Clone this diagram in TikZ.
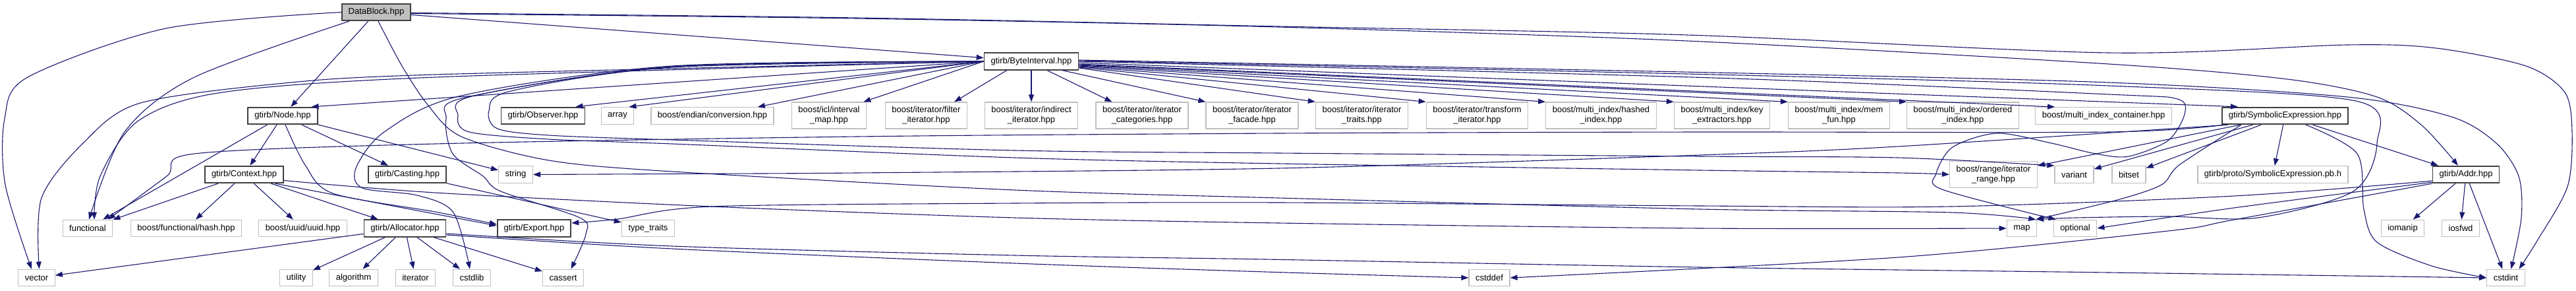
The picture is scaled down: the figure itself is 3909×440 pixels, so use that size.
\documentclass[tikz,border=0pt]{standalone}
\usepackage{fontspec}
\setmainfont{Liberation Sans}
\usetikzlibrary{arrows.meta}
\definecolor{edgeblue}{RGB}{25,25,112}
\definecolor{boxgray}{RGB}{191,191,191}
\definecolor{boxdark}{RGB}{64,64,64}

\begin{document}
\begin{tikzpicture}[
  x=1pt, y=-1pt,
  font=\fontsize{13}{15}\selectfont,
  sys/.style={draw=boxgray, line width=1.3pt, fill=white, align=center, inner xsep=10pt, inner ysep=2pt, minimum height=25.5pt},
  tall/.style={minimum height=40pt},
  own/.style={sys, draw=boxdark, line width=1.8pt},
  root/.style={own, fill=boxgray},
  dep/.style={draw=edgeblue, line width=1.1pt, -{Triangle[length=11pt,width=8pt]}}
]
\useasboundingbox (0,0) rectangle (3909,440);

% rows of the include graph
\node[root] (dblk) at (571,18.5) {DataBlock.hpp};
\node[own] (bi) at (1565,93) {gtirb/ByteInterval.hpp};

\node[own] (gnode) at (429,175.5) {gtirb/Node.hpp};
\node[own] (observer) at (824,175.5) {gtirb/Observer.hpp};
\node[sys] (array) at (937,175.5) {array};
\node[sys] (endian) at (1081,175.5) {boost/endian/conversion.hpp};
\node[sys, tall] (icl) at (1258,175) {boost/icl/interval\\\_map.hpp};
\node[sys, tall] (filter) at (1405.5,175) {boost/iterator/filter\\\_iterator.hpp};
\node[sys, tall] (indirect) at (1565,175) {boost/iterator/indirect\\\_iterator.hpp};
\node[sys, tall] (categ) at (1733,175) {boost/iterator/iterator\\\_categories.hpp};
\node[sys, tall] (facade) at (1900,175) {boost/iterator/iterator\\\_facade.hpp};
\node[sys, tall] (itraits) at (2066.5,175) {boost/iterator/iterator\\\_traits.hpp};
\node[sys, tall] (transform) at (2241.5,175) {boost/iterator/transform\\\_iterator.hpp};
\node[sys, tall] (hashed) at (2429.5,175) {boost/multi\_index/hashed\\\_index.hpp};
\node[sys, tall] (keyext) at (2613,175) {boost/multi\_index/key\\\_extractors.hpp};
\node[sys, tall] (memfun) at (2790.5,175) {boost/multi\_index/mem\\\_fun.hpp};
\node[sys, tall] (ordered) at (2978.5,175) {boost/multi\_index/ordered\\\_index.hpp};
\node[sys] (mic) at (3192,175.5) {boost/multi\_index\_container.hpp};
\node[own] (symexpr) at (3467.5,175.5) {gtirb/SymbolicExpression.hpp};

\node[own] (ctx) at (370.5,264.5) {gtirb/Context.hpp};
\node[own] (cast) at (618,264.5) {gtirb/Casting.hpp};
\node[sys] (string) at (782.5,264.5) {string};
\node[sys, tall] (range) at (3025,264.5) {boost/range/iterator\\\_range.hpp};
\node[sys] (variant) at (3147.5,264.5) {variant};
\node[sys] (bitset) at (3230.5,264.5) {bitset};
\node[sys] (pbh) at (3449,264.5) {gtirb/proto/SymbolicExpression.pb.h};
\node[own] (addr) at (3742,264.5) {gtirb/Addr.hpp};

\node[sys] (func) at (133,346) {functional};
\node[sys] (fhash) at (282.5,346) {boost/functional/hash.hpp};
\node[sys] (uuid) at (459.5,346) {boost/uuid/uuid.hpp};
\node[own] (alloc) at (614.5,346) {gtirb/Allocator.hpp};
\node[own] (export) at (810.5,346) {gtirb/Export.hpp};
\node[sys] (ttraits) at (983.5,346) {type\_traits};
\node[sys] (map) at (3068,346) {map};
\node[sys] (optional) at (3149,346) {optional};
\node[sys] (iomanip) at (3646,346) {iomanip};
\node[sys] (iosfwd) at (3734,346) {iosfwd};

\node[sys] (vector) at (55.5,421) {vector};
\node[sys] (utility) at (449.5,421) {utility};
\node[sys] (algorithm) at (536.5,421) {algorithm};
\node[sys] (iterator) at (630.5,421) {iterator};
\node[sys] (cstdlib) at (716,421) {cstdlib};
\node[sys] (cassert) at (854.5,421) {cassert};
\node[sys] (cstddef) at (2260,421) {cstddef};
\node[sys] (cstdint) at (3802.5,421) {cstdint};

% DataBlock.hpp
\draw[dep] plot[smooth] coordinates {(dblk.west) (252,43) (42,117) (7,180) (8,280) (vector.120)};
\draw[dep] plot[smooth] coordinates {([xshift=-41pt]dblk.south) (295,117) (189,200) ([xshift=2pt]func.north)};
\draw[dep] (dblk) -- (gnode);
\draw[dep] (dblk) -- (bi);
\draw[dep] plot[smooth] coordinates {([yshift=-2pt]dblk.east) (1300,28) (1940,41) (2560,62) (3200,97) (3471,120) (3607,147) (3675,190) ([xshift=-12pt]addr.north)};
\draw[dep] plot[smooth] coordinates {([yshift=-1pt]dblk.east) (1300,27) (1940,40) (2560,53) (3200,80) (3562,68) (3697,73) (3833,100) (3892,140) (3903,200) (3896,283) (3850,365) ([xshift=20pt]cstdint.north)};
\draw[dep] plot[smooth] coordinates {([xshift=3pt]dblk.south) (610,100) (650,160) (700,207) (833,243) (1020,260) (1540,288) (1940,300) (2580,317) (2960,322) ([xshift=-2pt]map.north east)};

% ByteInterval.hpp
\draw[dep] (bi.west) -- ([xshift=-15pt]observer.north east);
\draw[dep] (bi.west) -- ([xshift=-8pt]array.north east);
\draw[dep] (bi.west) -- ([xshift=-25pt]endian.north east);
\draw[dep] (bi.west) -- ([xshift=-5pt]icl.north east);
\draw[dep] ([xshift=35pt]bi.south west) -- ([xshift=-20pt]filter.north east);
\draw[dep] (bi) -- (indirect);
\draw[dep] ([xshift=24pt]bi.south) -- ([xshift=25pt]categ.north west);
\draw[dep] ([xshift=47pt]bi.south) -- (facade.north west);
\draw[dep] ([yshift=-10pt]bi.east) -- (itraits.north west);
\draw[dep] ([yshift=-9pt]bi.east) -- (transform.north west);
\draw[dep] ([yshift=-8pt]bi.east) -- (hashed.north west);
\draw[dep] ([yshift=-7pt]bi.east) -- (keyext.north west);
\draw[dep] ([yshift=-6pt]bi.east) -- (memfun.north west);
\draw[dep] ([yshift=-5pt]bi.east) -- (ordered.north west);
\draw[dep] ([yshift=-4pt]bi.east) -- ([xshift=30pt]mic.north west);
\draw[dep] ([yshift=-2pt]bi.east) -- ([xshift=25pt]symexpr.north west);
\draw[dep] (bi.west) -- ([xshift=-10pt]gnode.north east);
\draw[dep] plot[smooth] coordinates {(bi.west) (660,117) (337,140) (210,183) (152,267) ([xshift=10pt]func.north)};
\draw[dep] plot[smooth] coordinates {(bi.west) (660,113) (421,127) (210,157) (126,217) (63,300) ([xshift=4pt]vector.north)};
\draw[dep] plot[smooth] coordinates {(bi.west) (1020,100) (700,145) (583,200) (540,255) (550,285) (633,296) (688,322) ([xshift=-3pt]cstdlib.north)};
\draw[dep] plot[smooth] coordinates {(bi.west) (1020,101) (705,148) (677,180) (687,233) (733,267) (760,290) (880,330) (889,355) ([xshift=12pt]cassert.north)};
\draw[dep] plot[smooth] coordinates {(bi.west) (1020,101) (720,145) (695,175) (712,200) (833,211) (1020,218) (1540,239) (1940,248) (2580,258) (2880,262) (range.west)};
\draw[dep] plot[smooth] coordinates {(bi.west) (1020,102) (775,138) (742,168) (755,195) (833,205) (1020,212) (1540,228) (1940,232) (2580,237) (2880,239) (variant.north west)};
\draw[dep] plot[smooth] coordinates {([yshift=2pt]bi.east) (2600,110) (3200,125) (3562,147) (3720,177) (3788,217) (3822,267) (3826,330) ([xshift=8pt]cstdint.north)};
\draw[dep] plot[smooth] coordinates {([yshift=1pt]bi.east) (2600,113) (3200,130) (3575,153) (3607,217) (3571,290) (3426,330) (3290,328) (3150,330) ([xshift=-1pt]map.north east)};
\draw[dep] plot[smooth] coordinates {(bi.east) (2600,118) (3200,143) (3304,150) (3315,173) (3290,213) (3230,237) (3180,233) (3113,217) (3030,202) (2963,223) (2938,263) (2947,287) ([xshift=4pt]optional.north west)};

% gtirb/Node.hpp
\draw[dep] (gnode) -- (func);
\draw[dep] (gnode) -- (ctx);
\draw[dep] (gnode) -- (cast);
\draw[dep] (gnode) -- (string);
\draw[dep] plot[smooth] coordinates {([xshift=4pt]gnode.south) (463,250) (505,293) (660,321) ([yshift=6pt]export.west)};

% gtirb/Context.hpp
\draw[dep] (ctx) -- (func);
\draw[dep] (ctx) -- (fhash);
\draw[dep] (ctx) -- (uuid);
\draw[dep] (ctx) -- (alloc);
\draw[dep] ([xshift=47pt]ctx.south) -- ([yshift=4pt]export.west);
\draw[dep] plot[smooth] coordinates {([yshift=-9pt]ctx.east) (660,292) (1080,313) (1540,330) (1940,338) (2580,346) (map.west)};

% gtirb/Casting.hpp
\draw[dep] (cast) -- (ttraits);

% gtirb/Allocator.hpp
\draw[dep] (alloc) -- (vector);
\draw[dep] (alloc) -- (utility);
\draw[dep] (alloc) -- (algorithm);
\draw[dep] (alloc) -- (iterator);
\draw[dep] (alloc) -- (cstdlib);
\draw[dep] (alloc) -- (cassert);
\draw[dep] plot[smooth] coordinates {([yshift=-10pt]alloc.east) (1020,377) (1540,399) (1920,412) (cstddef.west)};
\draw[dep] plot[smooth] coordinates {([yshift=-8pt]alloc.east) (1020,373) (1540,387) (1920,393) (2580,405) (3200,413) (cstdint.west)};

% gtirb/SymbolicExpression.hpp
\draw[dep] plot[smooth] coordinates {([xshift=5pt]symexpr.south west) (3200,200) (2580,200) (1940,202) (1300,207) (660,218) (295,233) (253,267) ([xshift=31pt]func.north)};
\draw[dep] plot[smooth] coordinates {([xshift=10pt]symexpr.south west) (2880,222) (2580,235) (1940,255) (1300,262) (1020,263.5) (string.east)};
\draw[dep] (symexpr) -- (range);
\draw[dep] (symexpr) -- (variant);
\draw[dep] (symexpr) -- (bitset);
\draw[dep] plot[smooth] coordinates {([xshift=30pt]symexpr.south west) (3307,250) (3280,280) (3213,303) ([xshift=-2pt]map.north east)};
\draw[dep] (symexpr) -- (pbh);
\draw[dep] (symexpr) -- (addr);
\draw[dep] plot[smooth] coordinates {([xshift=-65pt]symexpr.south east) (3577,233) (3587,317) (3607,367) (3690,403) (cstdint.west)};

% gtirb/Addr.hpp
\draw[dep] (addr) -- (iomanip);
\draw[dep] (addr) -- (iosfwd);
\draw[dep] (addr) -- (cstdint);
\draw[dep] plot[smooth] coordinates {([yshift=4pt]addr.south west) (3390,297) (2960,313) (2580,312) (1940,307) (1540,308) (1080,313) (937,332) ([yshift=8pt]export.east)};
\draw[dep] plot[smooth] coordinates {([yshift=2pt]addr.south west) (3390,315) (optional.east)};
\draw[dep] plot[smooth] coordinates {(addr.south west) (3390,333) (3290,350) (2880,390) (cstddef.east)};
\end{tikzpicture}
\end{document}
